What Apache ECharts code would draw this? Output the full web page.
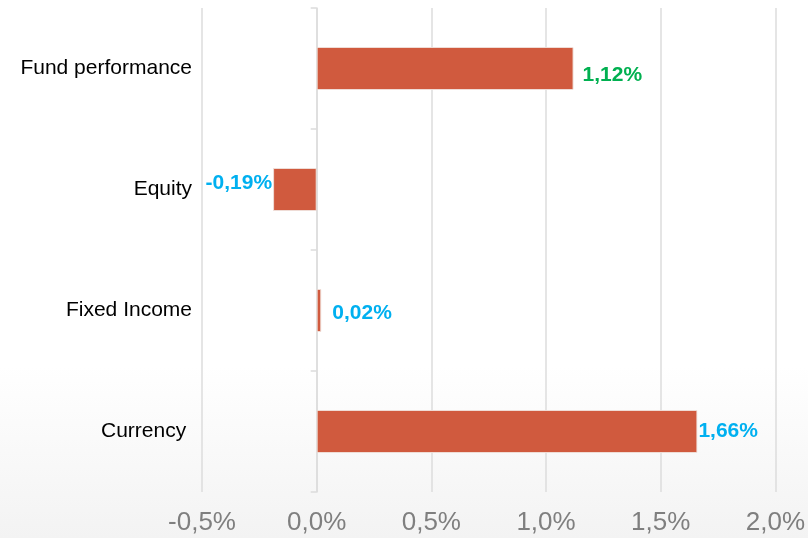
<!DOCTYPE html>
<html>
<head>
<meta charset="utf-8">
<script src="https://cdn.jsdelivr.net/npm/echarts@6/dist/echarts.min.js"></script>
<style>
  html, body { margin: 0; padding: 0; background: #fff; }
  #chart { width: 808px; height: 538px; }
</style>
</head>
<body>
<div id="chart"></div>
<script>
// Data
const categories = ['Fund performance', 'Equity', 'Fixed Income', 'Currency '];
const values = [1.12, -0.19, 0.02, 1.66];
const xTicks = [-0.5, 0, 0.5, 1, 1.5, 2];

// label look per bar (colour, side, gap, vertical nudge)
const labelStyles = [
    { color: '#00b050', position: 'right', distance: 9, offset: [0, 7] },
    { color: '#00b0f0', position: 'left', distance: 1, offset: [0, -6] },
    { color: '#00b0f0', position: 'right', distance: 11, offset: [0, 3] },
    { color: '#00b0f0', position: 'right', distance: 1, offset: [0, 0] }
];

const fmt = (v) => v.toFixed(2).replace('.', ',') + '%';
const gridColor = '#dcdcdc';

const chart = echarts.init(document.getElementById('chart'));

const option = {
    animation: false,
    backgroundColor: {
        type: 'linear', x: 0, y: 0, x2: 0, y2: 1,
        colorStops: [
            { offset: 0, color: '#ffffff' },
            { offset: 0.68, color: '#ffffff' },
            { offset: 1, color: '#f3f3f3' }
        ]
    },
    grid: { left: 202, right: 31, top: 8, bottom: 46 },
    xAxis: {
        type: 'value',
        min: xTicks[0],
        max: xTicks[xTicks.length - 1],
        interval: 0.5,
        axisLine: { show: false },
        axisTick: { show: false },
        splitLine: { lineStyle: { color: gridColor, width: 1.5 } },
        axisLabel: {
            color: '#7f7f7f',
            fontFamily: 'Arial, "Liberation Sans", sans-serif',
            fontSize: 26,
            margin: 18,
            formatter: (v) => v.toFixed(1).replace('.', ',') + '%'
        }
    },
    yAxis: [
        {
            type: 'category',
            data: categories,
            inverse: true,
            position: 'left',
            axisLine: { show: false, onZero: false },
            axisTick: { show: false },
            axisLabel: {
                color: '#000',
                fontFamily: 'Arial, "Liberation Sans", sans-serif',
                fontSize: 21,
                margin: 10
            }
        },
        {
            type: 'category',
            data: categories,
            inverse: true,
            position: 'left',
            axisLine: { show: true, onZero: true, lineStyle: { color: gridColor, width: 1.5 } },
            axisTick: { show: true, inside: false, length: 6, lineStyle: { color: gridColor, width: 1.5 } },
            axisLabel: { show: false }
        }
    ],
    series: [{
        type: 'bar',
        yAxisIndex: 0,
        barWidth: 43,
        data: values.map((v, i) => ({
            value: v,
            label: {
                show: true,
                position: labelStyles[i].position,
                distance: labelStyles[i].distance,
                offset: labelStyles[i].offset,
                color: labelStyles[i].color,
                fontWeight: 'bold',
                fontSize: 21,
                fontFamily: 'Arial, "Liberation Sans", sans-serif',
                formatter: (p) => fmt(p.value)
            }
        })),
        itemStyle: {
            color: '#d05a3e',
            borderColor: 'rgba(240,225,220,0.9)',
            borderWidth: 1
        }
    }]
};

chart.setOption(option);
</script>
</body>
</html>
